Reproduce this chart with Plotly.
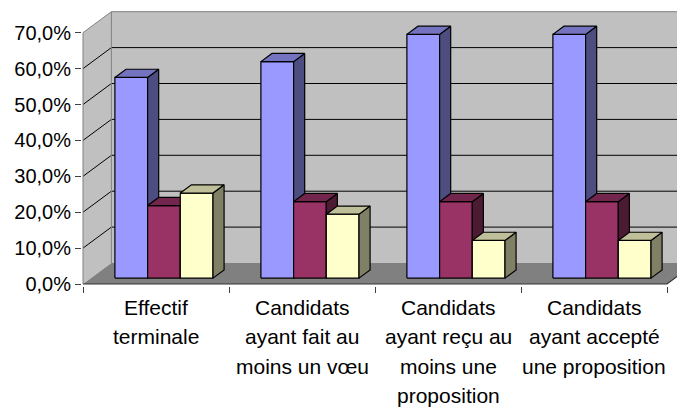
import plotly.graph_objects as go

# ---------------- data ----------------
categories = [
    ["Effectif", "terminale"],
    ["Candidats", "ayant fait au", "moins un vœu"],
    ["Candidats", "ayant reçu au", "moins une", "proposition"],
    ["Candidats", "ayant accepté", "une proposition"],
]
serie_1 = [55.9, 60.3, 67.9, 67.9]
serie_2 = [20.2, 21.3, 21.3, 21.3]
serie_3 = [23.7, 17.8, 10.5, 10.5]
y_ticks = [0, 10, 20, 30, 40, 50, 60, 70]
y_tick_labels = [f"{v:.1f}".replace(".", ",") + "%" for v in y_ticks]

series = [serie_1, serie_2, serie_3]
# (front, top, side) colours for each series
colors = [
    ("#9999FF", "#7373BF", "#4D4D80"),
    ("#993366", "#73264D", "#4D1A33"),
    ("#FFFFCC", "#BFBF99", "#808066"),
]

# ---------------- geometry ----------------
# the page body has an 8px default margin: figure is placed at (8, 8)
OFF = 8
WIN_W, WIN_H = 685, 410
FIG_W, FIG_H = WIN_W - OFF, WIN_H - OFF
PLOT_LEFT_PAGE, PLOT_BOTTOM_PAGE = 82, 286
M_L = PLOT_LEFT_PAGE - OFF
M_R, M_T = 0, 0
M_B = FIG_H - (PLOT_BOTTOM_PAGE - OFF)
PX_PER_PCT = 3.59
PX_PER_CAT = 146.0
plot_w = FIG_W - M_L - M_R
plot_h = FIG_H - M_T - M_B
x_lo = -(83 - PLOT_LEFT_PAGE) / PX_PER_CAT
x_hi = x_lo + plot_w / PX_PER_CAT
y_lo = -(PLOT_BOTTOM_PAGE - 284) / PX_PER_PCT
y_hi = y_lo + plot_h / PX_PER_PCT

DX = 28.4 / PX_PER_CAT      # wall depth, x units
DY = 21.0 / PX_PER_PCT      # wall depth, y units
D0, BD = 0.28, 0.39         # bar front depth fraction, bar depth fraction
BAR_W = 0.224               # bar width in category units
NCAT = len(categories)
YMAX = y_ticks[-1]
FONT = "Arial, Liberation Sans, sans-serif"

fig = go.Figure()


def poly(xs, ys, fill, lc="black", lw=1.0):
    fig.add_trace(go.Scatter(
        x=list(xs) + [xs[0]], y=list(ys) + [ys[0]],
        fill="toself", fillcolor=fill, mode="lines",
        line=dict(color=lc, width=lw), hoverinfo="skip", showlegend=False))


def path(xs, ys, lc, lw=1.0):
    fig.add_trace(go.Scatter(
        x=xs, y=ys, mode="lines", line=dict(color=lc, width=lw),
        hoverinfo="skip", showlegend=False, connectgaps=False))


# walls and floor
poly([0, 0, DX, DX], [0, YMAX, YMAX + DY, DY], "#C0C0C0", lw=0)
poly([DX, DX, NCAT + DX + 0.5, NCAT + DX + 0.5], [DY, YMAX + DY, YMAX + DY, DY], "#C0C0C0", lw=0)
poly([0, NCAT, NCAT + DX, DX], [0, 0, DY, DY], "#808080", lw=0)

# gridlines
gx, gy = [], []
for v in y_ticks[1:-1]:
    gx += [0, DX, NCAT + DX + 0.5, None]
    gy += [v, v + DY, v + DY, None]
path(gx, gy, "#000000", 1)

# wall borders
path([0, 0, DX, NCAT + DX + 0.5], [0, YMAX, YMAX + DY, YMAX + DY], "#808080", 1)
path([DX, DX], [DY, YMAX + DY], "#808080", 1)
# floor front / right edges
path([0, NCAT, NCAT + DX], [0, 0, DY], "#333333", 1.2)

# bars
for i in range(NCAT):
    g_left = i + 0.5 - 1.5 * BAR_W + D0 * DX
    yb = D0 * DY
    for s, vals in enumerate(series):
        v = vals[i]
        fc, tc, sc = colors[s]
        xl = g_left + s * BAR_W
        xr = xl + BAR_W
        yt = yb + v
        ddx, ddy = BD * DX, BD * DY
        poly([xl, xr, xr, xl], [yb, yb, yt, yt], fc, "black", 1.2)
        poly([xr, xr + ddx, xr + ddx, xr], [yb, yb + ddy, yt + ddy, yt], sc, "black", 1.2)
        poly([xl, xr, xr + ddx, xl + ddx], [yt, yt, yt + ddy, yt + ddy], tc, "black", 1.2)

# category labels (one annotation per line), positions in page pixels
LINE0_TOP_PAGE = 294
LINE_STEP_PX = 29.4
for i, lines in enumerate(categories):
    for k, txt in enumerate(lines):
        top_page = LINE0_TOP_PAGE + k * LINE_STEP_PX
        fig.add_annotation(
            x=i + 0.5, xref="x",
            y=(PLOT_BOTTOM_PAGE - top_page) / plot_h, yref="paper",
            yanchor="top", xanchor="center", text=txt, showarrow=False,
            font=dict(family=FONT, size=21, color="black"))

fig.update_layout(
    width=FIG_W, height=FIG_H,
    margin=dict(l=M_L, r=M_R, t=M_T, b=M_B, pad=0, autoexpand=False),
    paper_bgcolor="white", plot_bgcolor="white",
    showlegend=False,
    xaxis=dict(range=[x_lo, x_hi], tickvals=list(range(NCAT + 1)), ticks="outside",
               ticklen=6, tickcolor="#404040", showticklabels=False, automargin=False,
               showgrid=False, zeroline=False, showline=False, fixedrange=True),
    yaxis=dict(range=[y_lo, y_hi], tickvals=y_ticks, ticktext=y_tick_labels,
               ticks="outside", ticklen=6, tickcolor="#404040", automargin=False,
               tickfont=dict(family=FONT, size=20, color="black"),
               showgrid=False, zeroline=False, showline=False, fixedrange=True),
)

fig.write_html("out.html")
